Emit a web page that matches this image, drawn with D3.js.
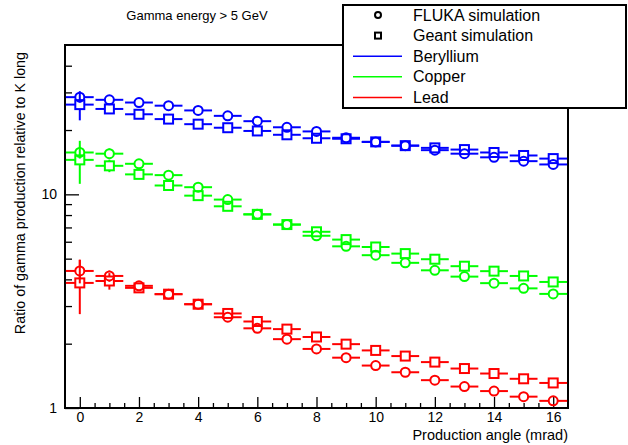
<!DOCTYPE html>
<html>
<head>
<meta charset="utf-8">
<script src="https://cdn.jsdelivr.net/npm/d3@7"></script>
<style>
  body { margin: 0; background: #fff; }
  svg { font-family: "Liberation Sans", Arial, sans-serif; }
</style>
</head>
<body>
<div id="chart"></div>
<script>
var angles = [0, 1, 2, 3, 4, 5, 6, 7, 8, 9, 10, 11, 12, 13, 14, 15, 16];

// FLUKA (circles) and Geant (squares) ratios per target
var flukaBe = [28.5, 27.7, 26.9, 26.0, 24.7, 23.3, 22.0, 20.6, 19.7, 18.4, 17.6, 16.9, 16.1, 15.5, 14.9, 14.3, 13.8];
var geantBe = [26.3, 25.1, 23.7, 22.5, 21.3, 20.5, 19.8, 19.0, 18.3, 18.2, 17.6, 16.9, 16.5, 16.2, 15.7, 15.2, 14.7];
var flukaCu = [15.7, 15.5, 13.9, 12.3, 10.8, 9.45, 8.06, 7.22, 6.40, 5.71, 5.19, 4.78, 4.41, 4.12, 3.84, 3.63, 3.42];
var geantCu = [14.5, 13.6, 12.4, 11.0, 9.86, 8.79, 8.06, 7.22, 6.68, 6.14, 5.67, 5.28, 4.97, 4.61, 4.37, 4.15, 3.89];
var flukaPb = [4.38, 4.15, 3.73, 3.41, 3.06, 2.66, 2.36, 2.10, 1.89, 1.72, 1.58, 1.47, 1.35, 1.26, 1.20, 1.13, 1.08];
var geantPb = [3.85, 3.93, 3.65, 3.41, 3.06, 2.77, 2.54, 2.34, 2.15, 1.99, 1.86, 1.75, 1.64, 1.53, 1.45, 1.37, 1.31];

// vertical errors (only the first bins carry visible ones)
var flukaBeErr = [1.6, 0.8, 0, 0, 0, 0, 0, 0, 0, 0, 0, 0, 0, 0, 0, 0, 0];
var geantBeErr = [4.1, 1.2, 0, 0, 0, 0, 0, 0, 0, 0, 0, 0, 0, 0, 0, 0, 0];
var flukaCuErr = [1.0, 0.9, 0, 0, 0, 0, 0, 0, 0, 0, 0, 0, 0, 0, 0, 0, 0];
var geantCuErr = [3.3, 0.9, 0, 0, 0, 0, 0, 0, 0, 0, 0, 0, 0, 0, 0, 0, 0];
var flukaPbErr = [0.55, 0.25, 0.1, 0, 0, 0, 0, 0, 0, 0, 0, 0, 0, 0, 0, 0, 0];
var geantPbErr = [1.1, 0.35, 0.15, 0, 0, 0, 0, 0, 0, 0, 0, 0, 0, 0, 0, 0, 0];

var yMajor = [1, 10];
var yMinor = [2, 3, 4, 5, 6, 7, 8, 9, 20, 30, 40];
var xLabels = [0, 2, 4, 6, 8, 10, 12, 14, 16];

var series = [
  { name: "Beryllium", color: "#0000ff", fluka: flukaBe, geant: geantBe, fErr: flukaBeErr, gErr: geantBeErr },
  { name: "Copper", color: "#00ff00", fluka: flukaCu, geant: geantCu, fErr: flukaCuErr, gErr: geantCuErr },
  { name: "Lead", color: "#ff0000", fluka: flukaPb, geant: geantPb, fErr: flukaPbErr, gErr: geantPbErr }
];

var W = 628, H = 445;
var m = { l: 65, r: 568, t: 45, b: 408 };

var svg = d3.select("#chart").append("svg")
  .attr("width", W)
  .attr("height", H);

var x = d3.scaleLinear().domain([-0.5, 16.5]).range([m.l, m.r]);
var y = d3.scaleLog().domain([1, 50]).range([m.b, m.t]);

// title
svg.append("text")
  .attr("x", 197).attr("y", 20)
  .attr("text-anchor", "middle")
  .style("font-size", "13px")
  .text("Gamma energy > 5 GeV");

// x axis, ticks pointing inward
var xTicks = d3.range(0, 16.01, 0.5);
var xAxis = svg.append("g")
  .attr("transform", "translate(0," + m.b + ")")
  .call(d3.axisBottom(x).tickValues(xTicks).tickSizeInner(-5).tickSizeOuter(0).tickPadding(4)
    .tickFormat(function(d) { return xLabels.indexOf(d) >= 0 ? d : ""; }));
xAxis.select(".domain").remove();
xAxis.selectAll(".tick line")
  .attr("stroke", "#000").attr("stroke-width", 1.3)
  .attr("y2", function(d) { return xLabels.indexOf(d) >= 0 ? -11 : -5; });
xAxis.selectAll("text").style("font-size", "14px").attr("fill", "#000");

// y axis, log, major/minor ticks inward
var yAxis = svg.append("g")
  .attr("transform", "translate(" + m.l + ",0)")
  .call(d3.axisLeft(y).tickValues(yMajor.concat(yMinor)).tickSizeInner(-7).tickSizeOuter(0).tickPadding(8)
    .tickFormat(function(d) { return yMajor.indexOf(d) >= 0 ? d : ""; }));
yAxis.select(".domain").remove();
yAxis.selectAll(".tick line")
  .attr("stroke", "#000").attr("stroke-width", 1.3)
  .attr("x2", function(d) { return yMajor.indexOf(d) >= 0 ? 14 : 7; });
yAxis.selectAll("text").style("font-size", "14px").attr("fill", "#000");

// frame
svg.append("rect")
  .attr("x", m.l).attr("y", m.t)
  .attr("width", m.r - m.l).attr("height", m.b - m.t)
  .attr("fill", "none").attr("stroke", "#000").attr("stroke-width", 2);

// axis titles
svg.append("text")
  .attr("x", m.r).attr("y", 440)
  .attr("text-anchor", "end")
  .style("font-size", "14.5px")
  .text("Production angle (mrad)");

svg.append("text")
  .attr("transform", "translate(25,52) rotate(-90)")
  .attr("text-anchor", "end")
  .style("font-size", "14.3px")
  .text("Ratio of gamma production relative to K long");

var plot = svg.append("g");
var r = 4.5, half = 0.47;

function drawPoints(g, vals, errs, color, shape) {
  var pts = angles.map(function(a, i) { return { a: a, v: vals[i], e: errs[i] }; });
  var grp = g.append("g").attr("stroke", color).attr("fill", "none").attr("stroke-width", 2);

  pts.forEach(function(d) {
    var cx = x(d.a), cy = y(d.v);
    // horizontal error bars, split around the marker
    grp.append("line").attr("x1", x(d.a - half)).attr("x2", cx - r).attr("y1", cy).attr("y2", cy);
    grp.append("line").attr("x1", cx + r).attr("x2", Math.min(x(d.a + half), m.r)).attr("y1", cy).attr("y2", cy);
    if (d.e > 0) {
      var yt = y(d.v + d.e), yb = y(d.v - d.e);
      if (yt < cy - r) grp.append("line").attr("x1", cx).attr("x2", cx).attr("y1", yt).attr("y2", cy - r);
      if (yb > cy + r) grp.append("line").attr("x1", cx).attr("x2", cx).attr("y1", cy + r).attr("y2", yb);
    }
    if (shape === "circle") {
      grp.append("circle").attr("cx", cx).attr("cy", cy).attr("r", r);
    } else {
      grp.append("rect").attr("x", cx - r).attr("y", cy - r).attr("width", 2 * r).attr("height", 2 * r);
    }
  });
}

series.forEach(function(s) {
  drawPoints(plot, s.geant, s.gErr, s.color, "square");
  drawPoints(plot, s.fluka, s.fErr, s.color, "circle");
});

// legend
var lg = svg.append("g");
lg.append("rect")
  .attr("x", 343).attr("y", 5).attr("width", 283).attr("height", 103)
  .attr("fill", "#fff").attr("stroke", "#000").attr("stroke-width", 2);

var legendRows = [
  { label: "FLUKA simulation", kind: "circle" },
  { label: "Geant simulation", kind: "square" }
].concat(series.map(function(s) { return { label: s.name, kind: "line", color: s.color }; }));

legendRows.forEach(function(row, i) {
  var ly = 15 + i * 20.6;
  if (row.kind === "circle") {
    lg.append("circle").attr("cx", 378).attr("cy", ly).attr("r", 3)
      .attr("fill", "none").attr("stroke", "#000").attr("stroke-width", 2);
  } else if (row.kind === "square") {
    lg.append("rect").attr("x", 375).attr("y", ly - 3).attr("width", 6).attr("height", 6)
      .attr("fill", "none").attr("stroke", "#000").attr("stroke-width", 2);
  } else {
    lg.append("line").attr("x1", 353).attr("x2", 402).attr("y1", ly).attr("y2", ly)
      .attr("stroke", row.color).attr("stroke-width", 1.5);
  }
  lg.append("text")
    .attr("x", 413).attr("y", ly + 5.5)
    .style("font-size", "16px")
    .text(row.label);
});
</script>
</body>
</html>
